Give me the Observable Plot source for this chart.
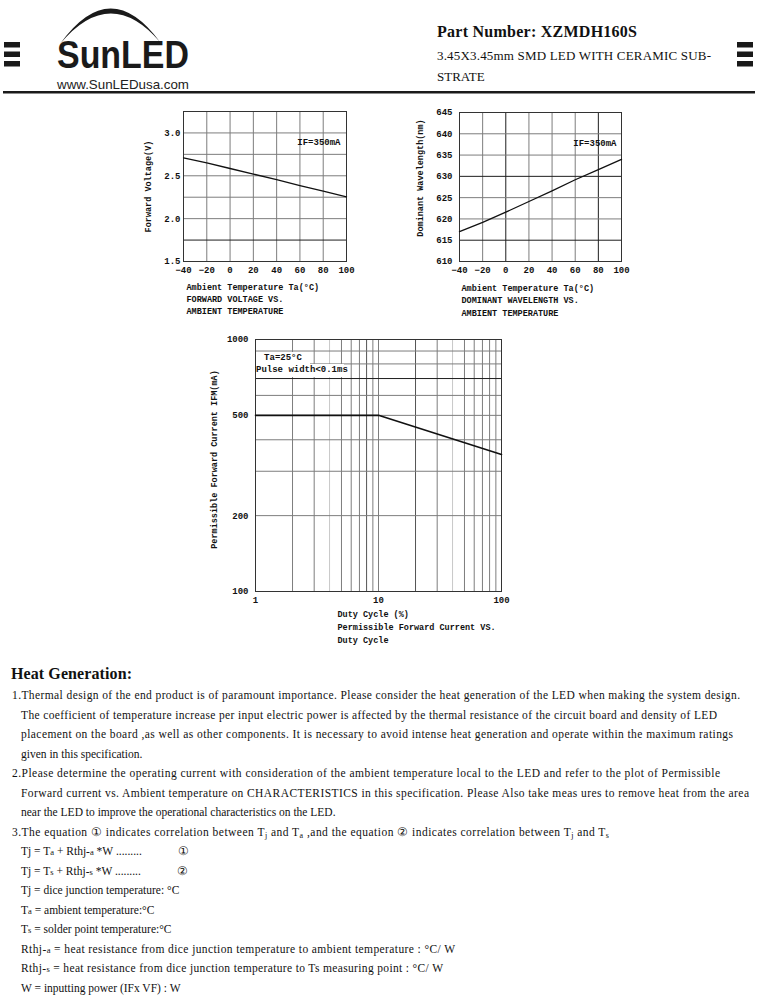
<!DOCTYPE html>
<html>
<head>
<meta charset="utf-8">
<script src="https://cdn.jsdelivr.net/npm/d3@7"></script>
<script src="https://cdn.jsdelivr.net/npm/@observablehq/plot@0.6"></script>
<style>
html,body{margin:0;padding:0;background:#fff;}
#page{position:relative;width:758px;height:998px;overflow:hidden;background:#fff;}
#page > svg.layer{position:absolute;left:0;top:0;}
.chart{position:absolute;}
.note{position:absolute;background:#fff;font-family:"Liberation Mono","DejaVu Sans Mono",monospace;font-weight:bold;font-size:9px;color:#111;white-space:pre;}
</style>
</head>
<body>
<div id="page">
<svg class="layer" width="758" height="998" xmlns="http://www.w3.org/2000/svg">
  <!-- header -->
  <g fill="#1a1a1a">
    <rect x="4" y="42" width="16" height="5.5"/>
    <rect x="4" y="51.5" width="16" height="5.5"/>
    <rect x="4" y="61" width="16" height="5.5"/>
    <rect x="737" y="42" width="16" height="5.5"/>
    <rect x="737" y="51.5" width="16" height="5.5"/>
    <rect x="737" y="61" width="16" height="5.5"/>
    <path d="M60 44 Q110 -26 160 42 Q110 -16 60 44 Z"/>
    <rect x="3" y="91" width="752" height="2.5"/>
  </g>
  <text x="57" y="68" font-family="Liberation Sans, Arial, sans-serif" font-weight="bold" font-size="38.5" fill="#1a1a1a" textLength="132" lengthAdjust="spacingAndGlyphs">SunLED</text>
  <text x="57" y="88.5" font-family="Liberation Sans, Arial, sans-serif" font-size="13" fill="#222" textLength="132" lengthAdjust="spacingAndGlyphs">www.SunLEDusa.com</text>
  <g font-family="Liberation Serif, Times New Roman, serif" fill="#111">
    <text x="437" y="37" font-weight="bold" font-size="16" textLength="200">Part Number: XZMDH160S</text>
    <text x="437" y="60" font-size="13" textLength="274">3.45X3.45mm SMD LED WITH CERAMIC SUB-</text>
    <text x="437" y="81" font-size="13">STRATE</text>
  </g>
  <!-- body text -->
  <g font-family="Liberation Serif, Times New Roman, serif" fill="#111" font-size="11.5" style="white-space:pre">
    <text x="11" y="679" font-weight="bold" font-size="16" textLength="121">Heat Generation:</text>
    <text x="12" y="699" textLength="728">1.Thermal design of the end product is of paramount importance. Please consider the heat generation of the LED when making the system design.</text>
    <text x="21" y="719" textLength="696">The coefficient of temperature increase per input electric power is affected by the thermal resistance of the circuit board and density of LED</text>
    <text x="21" y="738" textLength="712">placement on the board ,as well as other components. It is necessary to avoid intense heat generation and operate within the maximum ratings</text>
    <text x="21" y="758">given in this specification.</text>
    <text x="12" y="777" textLength="708">2.Please determine the operating current with consideration of the ambient temperature local to the LED and refer to the  plot of  Permissible</text>
    <text x="21" y="797" textLength="728">Forward current  vs. Ambient temperature on CHARACTERISTICS in this specification. Please Also take meas ures to remove heat from the area</text>
    <text x="21" y="816">near the LED to improve the operational characteristics on the LED.</text>
    <text x="12" y="836" textLength="597">3.The equation ①  indicates correlation between T<tspan font-size="8" dy="1.5">j</tspan><tspan dy="-1.5"> and T</tspan><tspan font-size="8" dy="1.5">a</tspan><tspan dy="-1.5"> ,and the equation ②  indicates correlation between T</tspan><tspan font-size="8" dy="1.5">j</tspan><tspan dy="-1.5"> and T</tspan><tspan font-size="8" dy="1.5">s</tspan></text>
    <text x="21" y="855">Tj = T<tspan font-size="8.5">a</tspan> + Rthj-<tspan font-size="8.5">a</tspan> *W  .........</text>
    <text x="178" y="855">①</text>
    <text x="21" y="875">Tj = T<tspan font-size="8.5">s</tspan> + Rthj-<tspan font-size="8.5">s</tspan> *W  .........</text>
    <text x="177" y="875">②</text>
    <text x="21" y="894">Tj = dice junction temperature: °C</text>
    <text x="21" y="914">T<tspan font-size="8.5">a</tspan> = ambient temperature:°C</text>
    <text x="21" y="933">T<tspan font-size="8.5">s</tspan> = solder point temperature:°C</text>
    <text x="21" y="953" textLength="434">Rthj-<tspan font-size="8.5">a</tspan> = heat resistance from dice junction temperature to ambient temperature : °C/ W</text>
    <text x="21" y="972" textLength="422">Rthj-<tspan font-size="8.5">s</tspan> = heat resistance from dice junction temperature to Ts measuring point : °C/ W</text>
    <text x="21" y="992">W = inputting power (IFx VF) : W</text>
  </g>
</svg>
<div id="c1" class="chart" style="left:143px;top:101px"></div>
<div id="c2" class="chart" style="left:419px;top:102px"></div>
<div id="c3" class="chart" style="left:205px;top:329px"></div>
<div class="note" style="left:256px;top:352px;width:54px;height:12px;line-height:12px;text-align:center">Ta=25°C</div>
<div class="note" style="left:256px;top:364px;width:88px;height:13px;line-height:13px">Pulse width&lt;0.1ms</div>
</div>
<script>
// ---- Chart 1: forward voltage vs ambient temperature ----
const vfTemp = [-40, -20, 0, 20, 40, 60, 80, 100];
const vfVolt = [2.71, 2.65, 2.585, 2.52, 2.455, 2.385, 2.32, 2.255];
const vfXTicks = [-40, -20, 0, 20, 40, 60, 80, 100];
const vfYTicks = [1.5, 2.0, 2.5, 3.0];
const vfGridX = [-20, 0, 20, 40, 60, 80];
const vfGridY = [2.0, 2.25, 2.5, 2.75, 3.0];
const vfGridYDark = [1.75];
const vfNote = "IF=350mA";
const vfYLabel = "Forward Voltage(V)";
const vfCaption = "Ambient Temperature Ta(°C)\nFORWARD VOLTAGE VS.\nAMBIENT TEMPERATURE";

// ---- Chart 2: dominant wavelength vs ambient temperature ----
const wlTemp = [-40, -20, 0, 20, 40, 60, 80, 100];
const wlNm = [617.0, 619.2, 621.6, 624.1, 626.6, 629.2, 631.6, 634.0];
const wlXTicks = [-40, -20, 0, 20, 40, 60, 80, 100];
const wlYTicks = [610, 615, 620, 625, 630, 635, 640, 645];
const wlGridX = [-20, 20, 40, 60];
const wlGridXDark = [0, 80];
const wlGridY = [620, 625, 635, 640];
const wlGridYDark = [615, 630];
const wlNote = "IF=350mA";
const wlYLabel = "Dominant Wavelength(nm)";
const wlCaption = "Ambient Temperature Ta(°C)\nDOMINANT WAVELENGTH VS.\nAMBIENT TEMPERATURE";

// ---- Chart 3: permissible forward current vs duty cycle ----
const dcDuty = [1, 10, 100];
const dcIfm = [500, 500, 350];
const dcXTicks = [1, 10, 100];
const dcYTicks = [100, 200, 500, 1000];
const dcGridX = [2, 3, 5, 6, 7, 9, 10, 30, 50, 60, 70, 80, 90];
const dcGridXLight = [4, 40];
const dcGridXDark = [8, 20];
const dcGridY = [200, 300, 400, 500, 600, 800, 900];
const dcGridYDark = [700];
const dcYLabel = "Permissible Forward Current IFM(mA)";
const dcCaption = "Duty Cycle (%)\nPermissible Forward Current VS.\nDuty Cycle";

const base = {fontFamily: '"Liberation Mono", "DejaVu Sans Mono", monospace', fontWeight: "bold", fontSize: "9px", color: "#111", background: "transparent", overflow: "visible"};
const GRID = "#7d7d7d", DARK = "#1e1e1e", LIGHT = "#c8c8c8";
const minus = d => d < 0 ? "\u2212" + (-d) : String(d);
const ident = d => d;

const vfRows = vfTemp.map((t, i) => ({t, v: vfVolt[i]}));
const c1 = Plot.plot({
  width: 215, height: 215, marginTop: 10, marginRight: 12, marginBottom: 55, marginLeft: 40,
  style: base,
  x: {domain: [-40, 100]},
  y: {domain: [1.5, 3.25]},
  marks: [
    Plot.ruleX(vfGridX, {stroke: GRID}),
    Plot.ruleY(vfGridY, {stroke: GRID}),
    Plot.ruleY(vfGridYDark, {stroke: DARK}),
    Plot.frame({stroke: "#333"}),
    Plot.axisX({ticks: vfXTicks, tickSize: 0, tickPadding: 5, tickFormat: minus, label: null}),
    Plot.axisY({ticks: vfYTicks, tickSize: 0, tickPadding: 3, tickFormat: d3.format(".1f"), label: null}),
    Plot.line(vfRows, {x: "t", y: "v", stroke: "#111", strokeWidth: 1.3}),
    Plot.text([vfNote], {text: ident, frameAnchor: "top-right", dx: -6, dy: 27, fontSize: 9}),
    Plot.text([vfYLabel], {text: ident, frameAnchor: "left", rotate: -90, dx: -35, textAnchor: "middle", lineAnchor: "middle", fontSize: 8.5}),
    Plot.text([vfCaption], {text: ident, frameAnchor: "bottom-left", textAnchor: "start", lineAnchor: "top", dx: 3, dy: 19.5, lineHeight: 1.45, fontSize: 8.5})
  ]
});
document.getElementById("c1").append(c1);

const wlRows = wlTemp.map((t, i) => ({t, nm: wlNm[i]}));
const c2 = Plot.plot({
  width: 214, height: 214, marginTop: 10, marginRight: 12, marginBottom: 55, marginLeft: 40,
  style: base,
  x: {domain: [-40, 100]},
  y: {domain: [610, 645]},
  marks: [
    Plot.ruleX(wlGridX, {stroke: GRID}),
    Plot.ruleX(wlGridXDark, {stroke: DARK}),
    Plot.ruleY(wlGridY, {stroke: GRID}),
    Plot.ruleY(wlGridYDark, {stroke: DARK}),
    Plot.frame({stroke: "#333"}),
    Plot.axisX({ticks: wlXTicks, tickSize: 0, tickPadding: 5, tickFormat: minus, label: null}),
    Plot.axisY({ticks: wlYTicks, tickSize: 0, tickPadding: 7, tickFormat: d3.format("d"), label: null}),
    Plot.line(wlRows, {x: "t", y: "nm", stroke: "#111", strokeWidth: 1.3}),
    Plot.text([wlNote], {text: ident, frameAnchor: "top-right", dx: -5, dy: 27, fontSize: 9}),
    Plot.text([wlYLabel], {text: ident, frameAnchor: "left", rotate: -90, dx: -39, dy: -9, textAnchor: "middle", lineAnchor: "middle", fontSize: 8.5}),
    Plot.text([wlCaption], {text: ident, frameAnchor: "bottom-left", textAnchor: "start", lineAnchor: "top", dx: 2, dy: 20, lineHeight: 1.5, fontSize: 8.5})
  ]
});
document.getElementById("c2").append(c2);

const dcRows = dcDuty.map((d, i) => ({d, ifm: dcIfm[i]}));
const c3 = Plot.plot({
  width: 310, height: 317, marginTop: 10, marginRight: 14, marginBottom: 55, marginLeft: 50,
  style: base,
  x: {type: "log", domain: [1, 100]},
  y: {type: "log", domain: [100, 1000]},
  marks: [
    Plot.ruleX(dcGridX, {stroke: GRID}),
    Plot.ruleX(dcGridXLight, {stroke: LIGHT}),
    Plot.ruleX(dcGridXDark, {stroke: "#555"}),
    Plot.ruleY(dcGridY, {stroke: GRID}),
    Plot.ruleY(dcGridYDark, {stroke: DARK}),
    Plot.frame({stroke: "#333"}),
    Plot.axisX({ticks: dcXTicks, tickSize: 0, tickPadding: 5, tickFormat: d3.format("d"), label: null}),
    Plot.axisY({ticks: dcYTicks, tickSize: 0, tickPadding: 7, tickFormat: d3.format("d"), label: null}),
    Plot.line(dcRows, {x: "d", y: "ifm", stroke: "#111", strokeWidth: 1.6}),
    Plot.text([dcYLabel], {text: ident, frameAnchor: "left", rotate: -90, dx: -41, dy: -6, textAnchor: "middle", lineAnchor: "middle", fontSize: 8.5}),
    Plot.text([dcCaption], {text: ident, frameAnchor: "bottom-left", textAnchor: "start", lineAnchor: "top", dx: 82, dy: 16.5, lineHeight: 1.5, fontSize: 8.5})
  ]
});
document.getElementById("c3").append(c3);
</script>
</body>
</html>
